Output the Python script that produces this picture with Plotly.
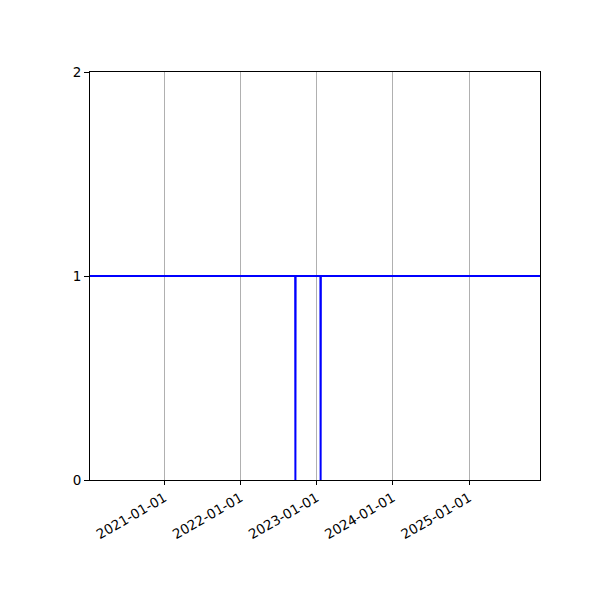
import plotly.graph_objects as go

dates = ["2020-01-10", "2022-09-20", "2022-09-21", "2022-09-22",
         "2023-01-19", "2023-01-20", "2023-01-21", "2025-12-07"]
values = [1, 1, 0, 1, 1, 0, 1, 1]

x_ticks = ["2021-01-01", "2022-01-01", "2023-01-01", "2024-01-01", "2025-01-01"]
y_ticks = [0, 1, 2]
x_range = ["2020-01-10", "2025-12-07"]

fig = go.Figure()
fig.add_trace(go.Scatter(x=dates, y=values, mode="lines",
                         line=dict(color="#0000ff", width=2), showlegend=False))

fig.update_layout(
    width=600, height=600,
    margin=dict(l=82, r=68, t=64, b=128),
    plot_bgcolor="white", paper_bgcolor="white",
    font=dict(family="DejaVu Sans", size=13.5, color="black"),
)
fig.update_xaxes(
    type="date", range=x_range,
    tickvals=x_ticks, ticktext=x_ticks, tickangle=-30,
    showgrid=True, gridcolor="#b0b0b0", gridwidth=1,
    showline=True, linecolor="black", linewidth=1, mirror=True,
    ticks="outside", ticklen=4, tickcolor="black", zeroline=False,
)
fig.update_yaxes(
    range=[0, 2], tickvals=y_ticks,
    showgrid=False,
    showline=True, linecolor="black", linewidth=1, mirror=True,
    ticks="outside", ticklen=5, tickcolor="black", zeroline=False,
)
fig.write_html("out.html")
